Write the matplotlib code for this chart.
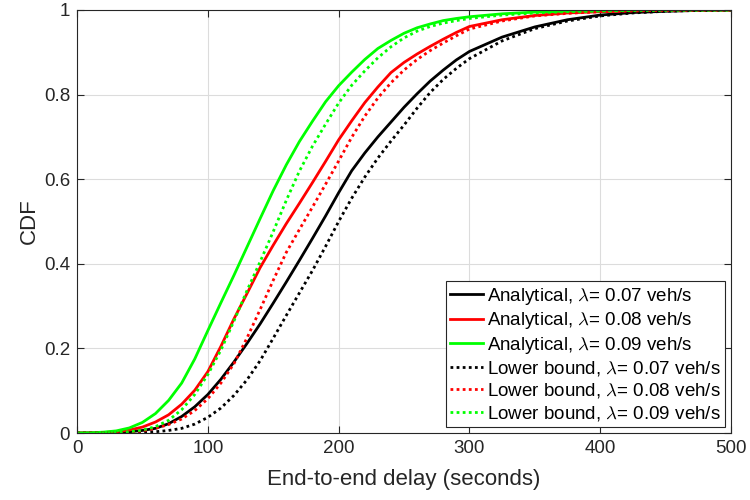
import matplotlib
matplotlib.use("Agg")
import matplotlib.pyplot as plt

# End-to-end delay grid (seconds)
delay = [0, 10, 20, 30, 40, 50, 60, 70, 80, 90, 100, 110, 120, 130, 140, 150,
         160, 170, 180, 190, 200, 210, 220, 230, 240, 250, 260, 270, 280, 290,
         300, 325, 350, 375, 400, 425, 450, 475, 500]

# Analytical CDFs
ana_007 = [0, 0.0001, 0.0003, 0.001, 0.003, 0.006, 0.011, 0.022, 0.039, 0.062,
           0.091, 0.127, 0.168, 0.212, 0.258, 0.307, 0.357, 0.408, 0.460, 0.513,
           0.568, 0.620, 0.662, 0.700, 0.735, 0.770, 0.802, 0.832, 0.858, 0.882,
           0.902, 0.936, 0.960, 0.977, 0.988, 0.994, 0.997, 0.999, 1.0]
ana_008 = [0, 0.0002, 0.001, 0.003, 0.007, 0.014, 0.026, 0.043, 0.068, 0.101,
           0.145, 0.205, 0.270, 0.330, 0.391, 0.444, 0.495, 0.543, 0.592, 0.642,
           0.693, 0.738, 0.781, 0.818, 0.852, 0.876, 0.896, 0.914, 0.931, 0.947,
           0.961, 0.977, 0.987, 0.993, 0.996, 0.998, 0.999, 0.9997, 1.0]
ana_009 = [0, 0.0005, 0.002, 0.005, 0.012, 0.025, 0.046, 0.077, 0.118, 0.175,
           0.242, 0.308, 0.373, 0.440, 0.507, 0.573, 0.634, 0.689, 0.737, 0.783,
           0.821, 0.853, 0.883, 0.909, 0.928, 0.945, 0.958, 0.967, 0.975, 0.980,
           0.984, 0.991, 0.995, 0.997, 0.998, 0.999, 0.9995, 0.9998, 1.0]

# Lower-bound CDFs
low_007 = [0, 0, 0.0001, 0.0002, 0.0006, 0.0015, 0.003, 0.006, 0.011, 0.021,
           0.037, 0.059, 0.089, 0.126, 0.171, 0.224, 0.278, 0.331, 0.384, 0.441,
           0.500, 0.555, 0.605, 0.650, 0.690, 0.728, 0.768, 0.805, 0.836, 0.862,
           0.885, 0.927, 0.956, 0.974, 0.986, 0.993, 0.997, 0.999, 1.0]
low_008 = [0, 0, 0.0002, 0.0007, 0.002, 0.005, 0.011, 0.020, 0.033, 0.053,
           0.081, 0.118, 0.164, 0.225, 0.292, 0.361, 0.427, 0.481, 0.534, 0.588,
           0.643, 0.699, 0.749, 0.792, 0.828, 0.858, 0.883, 0.904, 0.922, 0.939,
           0.955, 0.974, 0.986, 0.992, 0.996, 0.998, 0.999, 0.9996, 1.0]
low_009 = [0, 0, 0.0005, 0.0015, 0.003, 0.007, 0.015, 0.030, 0.055, 0.091,
           0.138, 0.196, 0.265, 0.337, 0.405, 0.476, 0.550, 0.619, 0.678, 0.730,
           0.780, 0.822, 0.856, 0.887, 0.913, 0.934, 0.950, 0.961, 0.969, 0.975,
           0.980, 0.988, 0.993, 0.996, 0.998, 0.999, 0.9995, 0.9998, 1.0]

series = [
    (ana_007, "black", "-", r"Analytical, $\lambda$= 0.07 veh/s"),
    (ana_008, "#ff0000", "-", r"Analytical, $\lambda$= 0.08 veh/s"),
    (ana_009, "#00ff00", "-", r"Analytical, $\lambda$= 0.09 veh/s"),
    (low_007, "black", ":", r"Lower bound, $\lambda$= 0.07 veh/s"),
    (low_008, "#ff0000", ":", r"Lower bound, $\lambda$= 0.08 veh/s"),
    (low_009, "#00ff00", ":", r"Lower bound, $\lambda$= 0.09 veh/s"),
]

plt.rcParams["font.family"] = ["Liberation Sans", "DejaVu Sans"]
plt.rcParams["mathtext.fontset"] = "cm"

fig = plt.figure(figsize=(7.5, 5), dpi=100)
ax = fig.add_axes([0.1027, 0.134, 0.872, 0.846])

for ys, col, ls, lab in series:
    style = ls if ls == "-" else (0, (1, 1.2))
    ax.plot(delay, ys, color=col, linestyle=style, linewidth=2.0, label=lab)

ax.set_xlim(0, 500)
ax.set_ylim(0, 1)
ax.set_xticks([0, 100, 200, 300, 400, 500])
ax.set_yticks([0, 0.2, 0.4, 0.6, 0.8, 1.0])
ax.set_yticklabels(["0", "0.2", "0.4", "0.6", "0.8", "1"])
ax.grid(True, color="#dcdcdc", linewidth=0.8)
ax.set_axisbelow(True)
ax.tick_params(direction="in", top=True, right=True, length=5,
               labelsize=13.5, colors="#262626", pad=5)
for sp in ax.spines.values():
    sp.set_color("#262626")
    sp.set_linewidth(0.8)

ax.set_xlabel("End-to-end delay (seconds)", fontsize=16, color="#262626",
              labelpad=9)
ax.set_ylabel("CDF", fontsize=16, color="#262626", labelpad=3)

leg = ax.legend(loc="lower right", fontsize=13.5, frameon=True, fancybox=False,
                edgecolor="#262626", framealpha=1, handlelength=1.75,
                handletextpad=0.2, borderpad=0.25, labelspacing=0.18,
                borderaxespad=0.3)
leg.get_frame().set_linewidth(0.8)

fig.savefig("out.png", dpi=100)
